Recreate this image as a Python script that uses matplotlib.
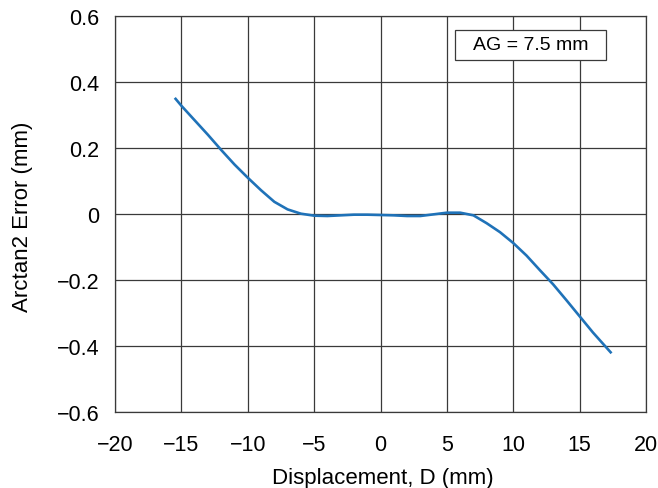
import matplotlib
matplotlib.use("Agg")
import matplotlib.pyplot as plt
from matplotlib.patches import Rectangle

plt.rcParams['font.family'] = ['Liberation Sans', 'DejaVu Sans']

# values
disp = [-15.5, -15.0, -14.0, -13.0, -12.0, -11.0, -10.0, -9.0, -8.0, -7.0,
        -6.0, -5.0, -4.0, -3.0, -2.0, -1.0, 0.0, 1.0, 2.0, 3.0, 4.0, 5.0,
        6.0, 7.0, 8.0, 9.0, 10.0, 11.0, 12.0, 13.0, 14.0, 15.0, 16.0, 17.0, 17.4]
err = [0.352, 0.328, 0.284, 0.240, 0.194, 0.150, 0.110, 0.072, 0.037, 0.014,
       0.001, -0.005, -0.006, -0.004, -0.002, -0.002, -0.003, -0.004, -0.006, -0.006,
       -0.001, 0.004, 0.004, -0.004, -0.028, -0.055, -0.088, -0.126, -0.170, -0.213,
       -0.261, -0.310, -0.359, -0.404, -0.422]

xticks = [-20, -15, -10, -5, 0, 5, 10, 15, 20]
yticks = [-0.6, -0.4, -0.2, 0, 0.2, 0.4, 0.6]
ylabels = ['\u22120.6', '\u22120.4', '\u22120.2', '0', '0.2', '0.4', '0.6']
xlabels = ['\u221220', '\u221215', '\u221210', '\u22125', '0', '5', '10', '15', '20']

fig = plt.figure(figsize=(6.58, 4.89), dpi=100)
ax = fig.add_axes([0.1748, 0.1554, 0.807, 0.8098])

ax.plot(disp, err, color='#1f72b8', lw=1.9, solid_capstyle='butt')

ax.set_xlim(-20, 20)
ax.set_ylim(-0.6, 0.6)
ax.set_xticks(xticks)
ax.set_xticklabels(xlabels)
ax.set_yticks(yticks)
ax.set_yticklabels(ylabels)
ax.tick_params(length=0, labelsize=15.5)
ax.tick_params(axis='x', pad=16)
ax.tick_params(axis='y', pad=11)
ax.grid(True, color='#3a3a3a', lw=0.9)
ax.set_axisbelow(True)
for s in ax.spines.values():
    s.set_color('#3a3a3a')
    s.set_linewidth(0.9)

ax.set_xlabel('Displacement, D (mm)', fontsize=16)
ax.set_ylabel('Arctan2 Error (mm)', fontsize=16)
ax.xaxis.set_label_coords(0.505, -0.139)
ax.yaxis.set_label_coords(-0.154, 0.495)

# annotation box
ax.add_patch(Rectangle((0.640, 0.889), 0.285, 0.076, transform=ax.transAxes,
                       fc='white', ec='#3a3a3a', lw=0.9, zorder=3))
ax.text(0.7825, 0.927, 'AG = 7.5 mm', fontsize=14, ha='center', va='center',
        transform=ax.transAxes, zorder=4)

fig.savefig('out.png', dpi=100)
